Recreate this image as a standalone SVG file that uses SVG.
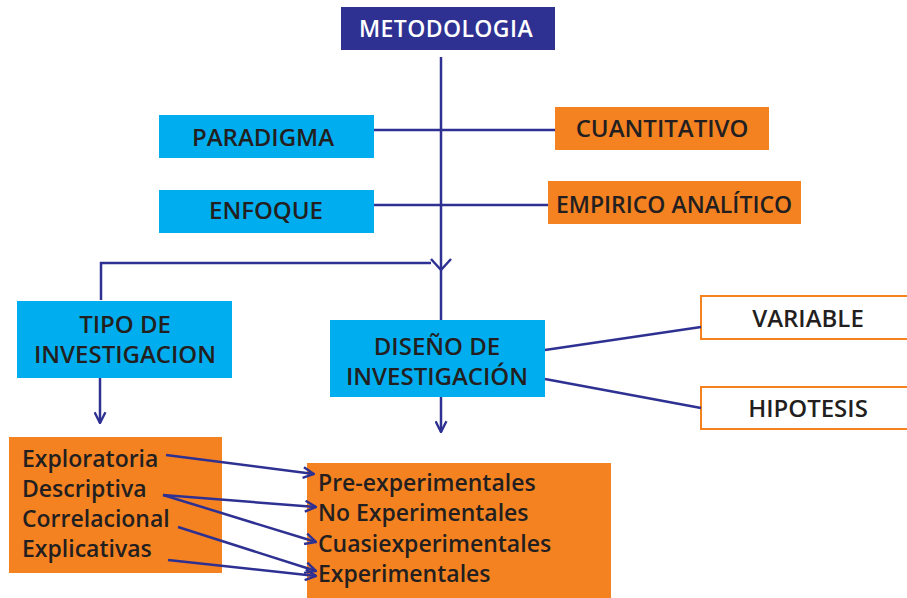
<svg xmlns="http://www.w3.org/2000/svg" width="907" height="598" viewBox="0 0 907 598">
<defs>
<marker id="ah" viewBox="0 0 12 12" refX="11" refY="6" markerWidth="13" markerHeight="13" markerUnits="userSpaceOnUse" orient="auto">
<polyline points="1,1 11,6 1,11" fill="none" stroke="#2e3192" stroke-width="2.2"/>
</marker>
</defs>
<style>
.blue{fill:#00aeef}
.orange{fill:#f58220}
.white{fill:#fff;stroke:#f58220;stroke-width:2}
.t{font-family:"Open Sans","Liberation Sans",sans-serif;font-weight:600;fill:#231f20;font-size:24px;text-anchor:middle}
.l{font-family:"Open Sans","Liberation Sans",sans-serif;font-weight:600;fill:#231f20;font-size:23px}
.c{fill:none;stroke:#2e3192;stroke-width:2.5}
</style>
<rect width="907" height="598" fill="#fff"/>
<g id="metodologia">
<rect x="341" y="7" width="214" height="43" fill="#2e3192"/>
<text class="t" x="446" y="37" style="fill:#fff;font-size:23px;letter-spacing:0.4px">METODOLOGIA</text>
</g>
<g id="paradigma">
<rect class="blue" x="159" y="115" width="215" height="43"/>
<text class="t" x="263" y="146">PARADIGMA</text>
</g>
<g id="cuantitativo">
<rect class="orange" x="555" y="107" width="214" height="43"/>
<text class="t" x="662" y="137">CUANTITATIVO</text>
</g>
<g id="enfoque">
<rect class="blue" x="159" y="190" width="215" height="43"/>
<text class="t" x="266" y="219">ENFOQUE</text>
</g>
<g id="empirico">
<rect class="orange" x="548" y="181" width="253" height="43"/>
<text class="t" x="674" y="213" style="font-size:23px">EMPIRICO ANALÍTICO</text>
</g>
<g id="tipo">
<rect class="blue" x="17" y="301" width="215" height="77"/>
<text class="t" x="125" y="333">TIPO DE</text>
<text class="t" x="125" y="363">INVESTIGACION</text>
</g>
<g id="diseno">
<rect class="blue" x="330" y="320" width="215" height="77"/>
<text class="t" x="437" y="355">DISEÑO DE</text>
<text class="t" x="437" y="385">INVESTIGACIÓN</text>
</g>
<g id="variable">
<rect class="white" x="701" y="296" width="210" height="43"/>
<text class="t" x="808" y="327">VARIABLE</text>
</g>
<g id="hipotesis">
<rect class="white" x="701" y="387" width="210" height="42"/>
<text class="t" x="808" y="417">HIPOTESIS</text>
</g>
<g id="tipos">
<rect class="orange" x="9" y="437" width="213" height="136"/>
<text class="l" x="22" y="467">Exploratoria</text>
<text class="l" x="22" y="497">Descriptiva</text>
<text class="l" x="22" y="527">Correlacional</text>
<text class="l" x="22" y="557">Explicativas</text>
</g>
<g id="disenos">
<rect class="orange" x="307" y="463" width="304" height="140"/>
<text class="l" x="318" y="491">Pre-experimentales</text>
<text class="l" x="318" y="521">No Experimentales</text>
<text class="l" x="318" y="552">Cuasiexperimentales</text>
<text class="l" x="318" y="582">Experimentales</text>
</g>
<g id="connectors">
<line class="c" x1="441" y1="57" x2="441" y2="320"/>
<polyline class="c" points="431,259 441,270 451,259"/>
<polyline class="c" points="101,300 101,263 431,263"/>
<line class="c" x1="374" y1="130" x2="555" y2="130"/>
<line class="c" x1="374" y1="205" x2="548" y2="205"/>
<line class="c" x1="100" y1="378" x2="100" y2="423" marker-end="url(#ah)"/>
<line class="c" x1="441" y1="397" x2="441" y2="432" marker-end="url(#ah)"/>
<line class="c" x1="545" y1="350" x2="701" y2="327"/>
<line class="c" x1="545" y1="379" x2="701" y2="408"/>
<line class="c" x1="166" y1="455" x2="314" y2="474" marker-end="url(#ah)"/>
<line class="c" x1="163" y1="495" x2="316" y2="507" marker-end="url(#ah)"/>
<line class="c" x1="163" y1="495" x2="316" y2="542" marker-end="url(#ah)"/>
<line class="c" x1="178" y1="527" x2="316" y2="571" marker-end="url(#ah)"/>
<line class="c" x1="168" y1="560" x2="316" y2="576" marker-end="url(#ah)"/>
</g>
</svg>
